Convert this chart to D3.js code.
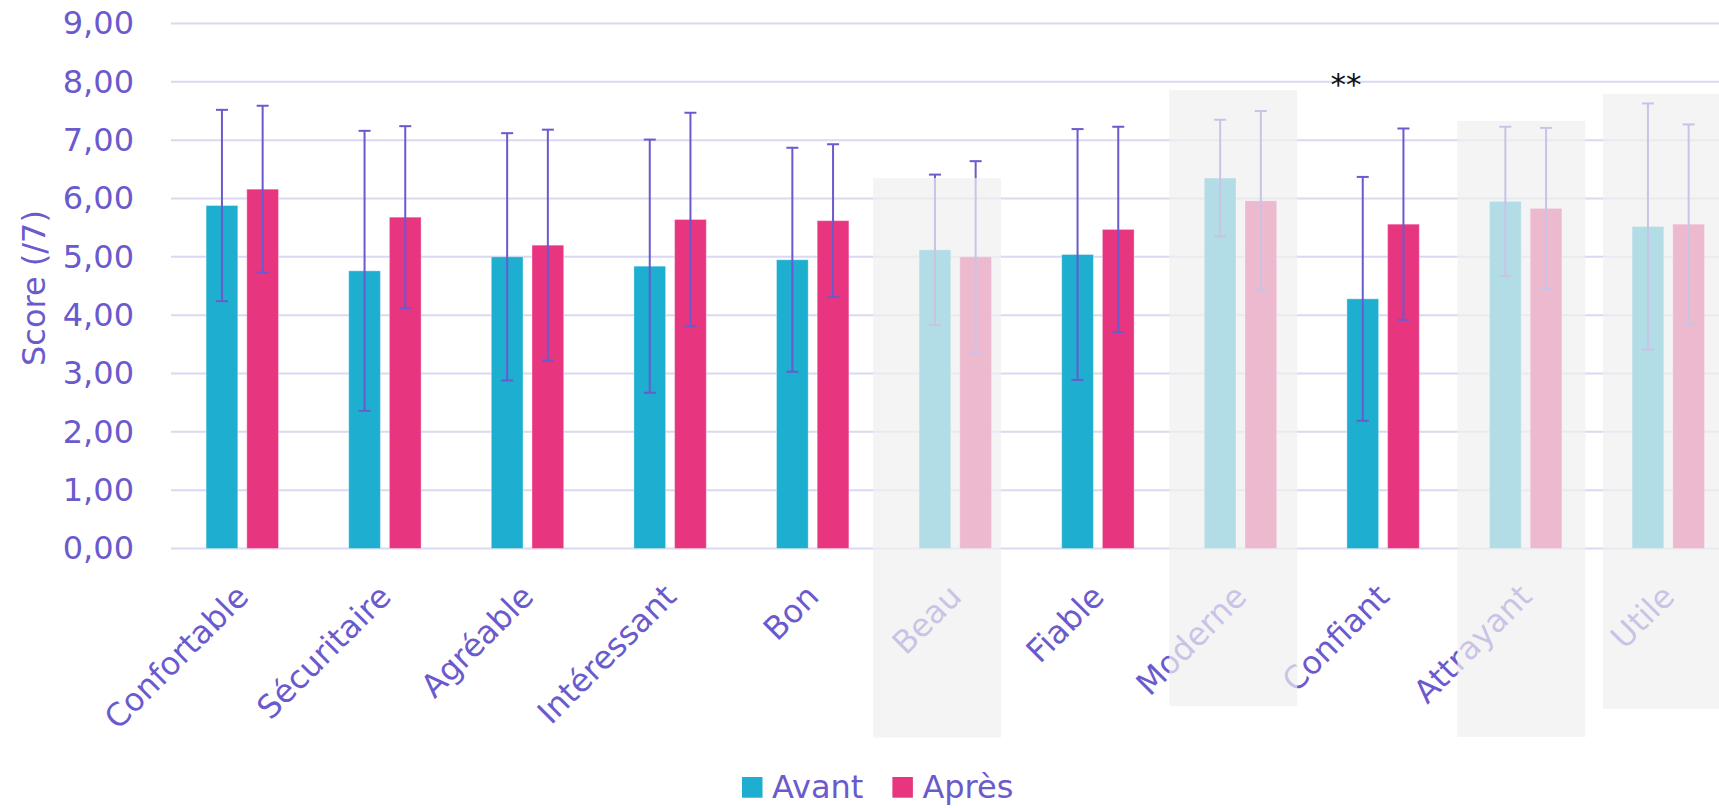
<!DOCTYPE html>
<html lang="fr">
<head>
<meta charset="utf-8">
<title>Score (/7) – Avant / Après</title>
<script src="https://cdn.jsdelivr.net/npm/d3@7"></script>
<style>
  html, body { margin: 0; padding: 0; background: #ffffff; }
  svg { display: block; font-family: "DejaVu Sans", Verdana, sans-serif; }
</style>
</head>
<body>
<svg id="chart" width="1719" height="808"></svg>
<script>
// Adjectives rated before and after, mean score out of 7 with standard deviation
const categories = ["Confortable", "Sécuritaire", "Agréable", "Intéressant", "Bon", "Beau",
                    "Fiable", "Moderne", "Confiant", "Attrayant", "Utile"];
const series = ["Avant", "Après"];
const avant   = [5.88, 4.76, 5.00, 4.84, 4.95, 5.12, 5.04, 6.35, 4.28, 5.95, 5.52];
const apres   = [6.16, 5.68, 5.20, 5.64, 5.62, 5.00, 5.47, 5.96, 5.56, 5.83, 5.56];
const avantSD = [1.64, 2.40, 2.12, 2.17, 1.92, 1.29, 2.15, 1.00, 2.09, 1.28, 2.11];
const apresSD = [1.43, 1.56, 1.98, 1.83, 1.31, 1.64, 1.76, 1.54, 1.64, 1.38, 1.71];
const yTicks  = [0, 1, 2, 3, 4, 5, 6, 7, 8, 9];

// Adjectives shaded out (non-significant block) and the significance mark
const shaded = ["Beau", "Moderne", "Attrayant", "Utile"];
const significance = [{ category: "Confiant", label: "**" }];

const colors = { Avant: "#1eaecf", "Après": "#e83580" };
const ink = "#6a5acd";

const svg = d3.select("#chart");
const W = 1719, H = 808;
const margin = { left: 171, top: 23.5, bottom: 259.5 };
const step = 142.6;

const x = d3.scaleBand()
  .domain(categories)
  .range([margin.left, margin.left + step * categories.length])
  .padding(0);

const xSub = d3.scaleBand()
  .domain(series)
  .range([-36.2, 36.2])
  .paddingInner(0.221);

const y = d3.scaleLinear().domain([0, 9]).range([H - margin.bottom, margin.top]);

const fr = d3.formatLocale({ decimal: ",", thousands: " ", grouping: [3], currency: ["", " €"] });
const fmt = fr.format(".2f");

// Horizontal gridlines
svg.append("g")
  .selectAll("line")
  .data(yTicks)
  .join("line")
  .attr("x1", margin.left).attr("x2", W)
  .attr("y1", d => y(d)).attr("y2", d => y(d))
  .attr("stroke", "#dad8f2")
  .attr("stroke-width", 2);

// Y axis tick labels
const yAxis = svg.append("g")
  .attr("transform", `translate(${margin.left},0)`)
  .call(d3.axisLeft(y).tickValues(yTicks).tickFormat(fmt).tickSize(0).tickPadding(37));
yAxis.select(".domain").remove();
yAxis.selectAll("text")
  .attr("fill", ink)
  .attr("font-size", 32)
  .attr("font-family", "DejaVu Sans, Verdana, sans-serif");

// Y axis title
svg.append("text")
  .attr("transform", `translate(45,${y(4.5) + 2}) rotate(-90)`)
  .attr("text-anchor", "middle")
  .attr("fill", ink)
  .attr("font-size", 32)
  .text("Score (/7)");

// Bars and error bars
const rows = categories.map((c, i) => ({
  category: c,
  values: [
    { key: "Avant", mean: avant[i], sd: avantSD[i] },
    { key: "Après", mean: apres[i], sd: apresSD[i] }
  ]
}));

const groups = svg.append("g")
  .selectAll("g")
  .data(rows)
  .join("g")
  .attr("transform", d => `translate(${x(d.category) + x.bandwidth() / 2},0)`);

groups.selectAll("rect")
  .data(d => d.values)
  .join("rect")
  .attr("x", d => xSub(d.key))
  .attr("width", xSub.bandwidth())
  .attr("y", d => y(d.mean))
  .attr("height", d => y(0) - y(d.mean))
  .attr("fill", d => colors[d.key])
  .attr("stroke", "rgba(255,255,255,0.35)")
  .attr("stroke-width", 1);

const err = groups.selectAll("g.err")
  .data(d => d.values)
  .join("g")
  .attr("class", "err")
  .attr("transform", d => `translate(${xSub(d.key) + xSub.bandwidth() / 2},0)`)
  .attr("stroke", ink)
  .attr("stroke-width", 2);
err.append("line")
  .attr("y1", d => y(d.mean + d.sd)).attr("y2", d => y(d.mean - d.sd));
err.append("line")
  .attr("x1", -6).attr("x2", 6)
  .attr("y1", d => y(d.mean + d.sd)).attr("y2", d => y(d.mean + d.sd));
err.append("line")
  .attr("x1", -6).attr("x2", 6)
  .attr("y1", d => y(d.mean - d.sd)).attr("y2", d => y(d.mean - d.sd));

// Rotated category labels
svg.append("g")
  .selectAll("text")
  .data(categories)
  .join("text")
  .attr("transform", d => `translate(${x(d) + x.bandwidth() / 2 + 8},${y(0) + 50}) rotate(-45)`)
  .attr("text-anchor", "end")
  .attr("fill", ink)
  .attr("font-size", 32)
  .text(d => d);

// Shaded blocks over the adjectives set apart
const shadeBox = {
  "Beau":      { dx: -11, top: 6.35, bottom: -3.24 },
  "Moderne":   { dx: 0,   top: 7.86, bottom: -2.70 },
  "Attrayant": { dx: 3,   top: 7.33, bottom: -3.23 },
  "Utile":     { dx: 6,   top: 7.79, bottom: -2.75 }
};
svg.append("g")
  .selectAll("rect")
  .data(shaded)
  .join("rect")
  .attr("x", d => x(d) + shadeBox[d].dx)
  .attr("width", 128)
  .attr("y", d => y(shadeBox[d].top))
  .attr("height", d => y(shadeBox[d].bottom) - y(shadeBox[d].top))
  .attr("fill", "#efefef")
  .attr("fill-opacity", 0.71);

// Significance marker
svg.append("g")
  .selectAll("text")
  .data(significance)
  .join("text")
  .attr("x", d => x(d.category) + x.bandwidth() / 2 - 37)
  .attr("y", y(7.78))
  .attr("text-anchor", "middle")
  .attr("fill", "#111111")
  .attr("font-size", 31)
  .text(d => d.label);

// Legend
const legend = svg.append("g").attr("transform", "translate(742,797.7)");
let lx = 0;
series.forEach(s => {
  const item = legend.append("g").attr("transform", `translate(${lx},0)`);
  item.append("rect")
    .attr("x", 0).attr("y", -20.7)
    .attr("width", 20.5).attr("height", 20.7)
    .attr("fill", colors[s]);
  const t = item.append("text")
    .attr("x", 30)
    .attr("fill", ink)
    .attr("font-size", 32)
    .text(s);
  lx += 30 + t.node().getComputedTextLength() + 29;
});
</script>
</body>
</html>
